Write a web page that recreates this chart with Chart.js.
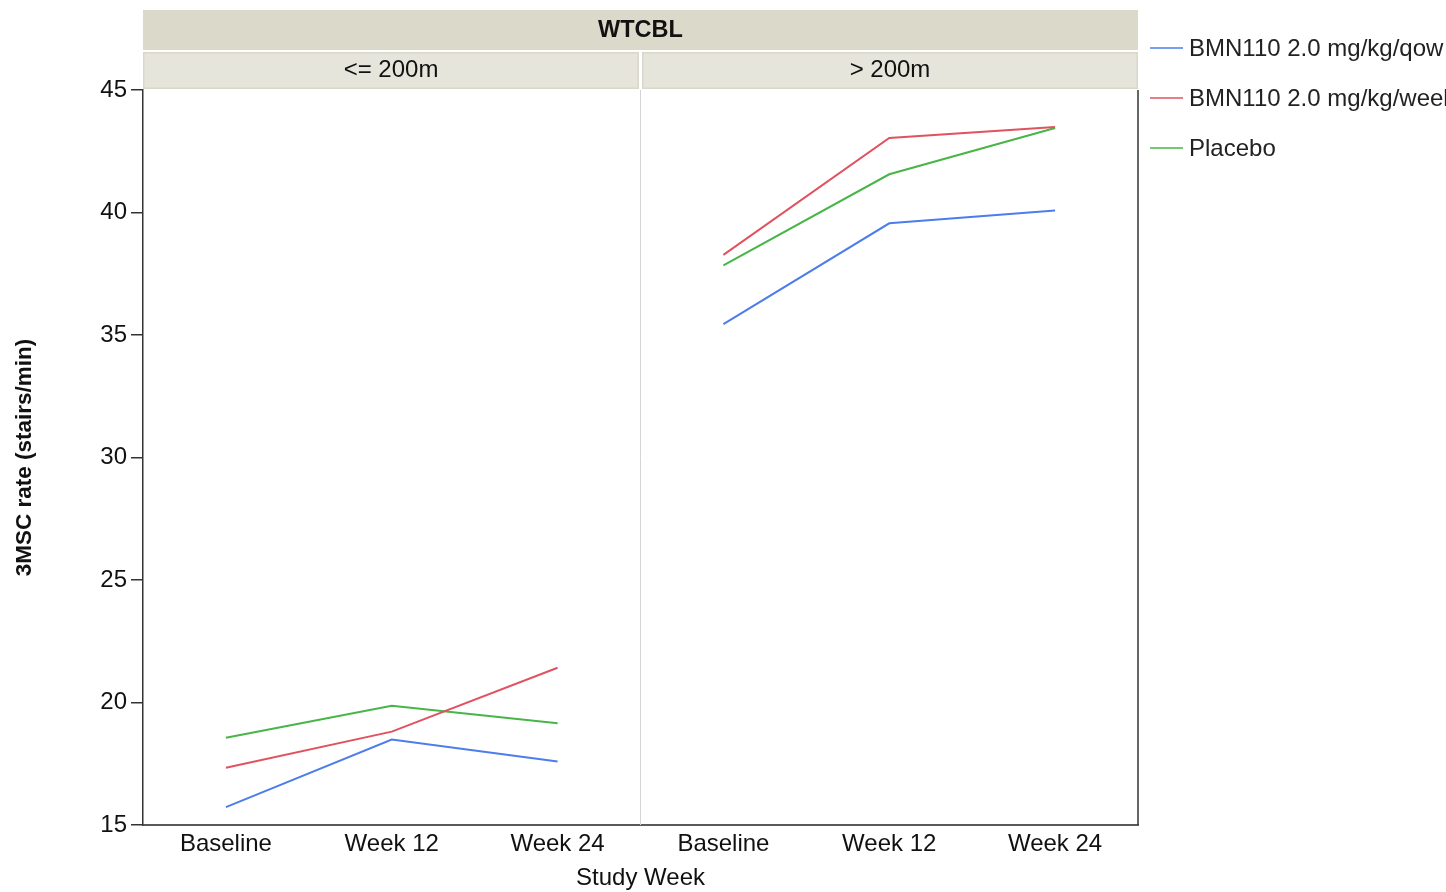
<!DOCTYPE html>
<html>
<head>
<meta charset="utf-8">
<script src="https://cdn.jsdelivr.net/npm/chart.js@4/dist/chart.umd.min.js"></script>
<style>
html,body{margin:0;padding:0;background:#fff;overflow:hidden;}
canvas{display:block;}
</style>
</head>
<body>
<canvas id="c" width="1446" height="892"></canvas>
<script>
// ---- data ----
const categories = ['Baseline', 'Week 12', 'Week 24'];
const panelLabels = ['<= 200m', '> 200m'];
const stripTitle = 'WTCBL';
const seriesNames = ['BMN110 2.0 mg/kg/qow', 'BMN110 2.0 mg/kg/week', 'Placebo'];
const seriesColors = ['#4d7ceb', '#e0525f', '#47b547'];
// values per series: panel "<= 200m" then panel "> 200m"
const qowLow = [15.73, 18.49, 17.59];
const qowHigh = [35.44, 39.56, 40.08];
const weekLow = [17.34, 18.81, 21.42];
const weekHigh = [38.27, 43.04, 43.49];
const placeboLow = [18.56, 19.87, 19.15];
const placeboHigh = [37.84, 41.56, 43.45];
const yTicks = [15, 20, 25, 30, 35, 40, 45];
const yTitle = '3MSC rate (stairs/min)';
const xTitle = 'Study Week';

const FONT = '"Liberation Sans", Arial, sans-serif';
const FS = 24;
const labels = categories.concat(categories);
const seriesData = [qowLow.concat(qowHigh), weekLow.concat(weekHigh), placeboLow.concat(placeboHigh)];

const datasets = seriesNames.map((n, i) => ({
  label: n,
  data: seriesData[i],
  borderColor: seriesColors[i],
  backgroundColor: seriesColors[i],
  borderWidth: 2,
  pointRadius: 0,
  fill: false,
  tension: 0,
  segment: {
    borderColor: ctx => ctx.p0DataIndex === categories.length - 1 ? 'rgba(0,0,0,0)' : undefined
  }
}));

const decor = {
  id: 'decor',
  afterDraw(chart) {
    const c = chart.ctx, a = chart.chartArea, x = chart.scales.x;
    const mid = (x.getPixelForValue(2) + x.getPixelForValue(3)) / 2;
    c.save();
    // panel divider
    c.strokeStyle = '#d4d4d4'; c.lineWidth = 1;
    c.beginPath(); c.moveTo(mid, a.top); c.lineTo(mid, a.bottom); c.stroke();
    // right border
    c.strokeStyle = '#333'; c.lineWidth = 1.5;
    c.beginPath(); c.moveTo(a.right, a.top); c.lineTo(a.right, a.bottom); c.stroke();
    // top strip
    c.fillStyle = '#dbd9ca';
    c.fillRect(a.left, 10, a.right - a.left, 40);
    c.fillStyle = '#111'; c.font = 'bold 23.5px ' + FONT;
    c.textAlign = 'center'; c.textBaseline = 'middle';
    c.fillText(stripTitle, (a.left + a.right) / 2, 31);
    // sub strips
    const panels = [[a.left, mid - 1.5], [mid + 1.5, a.right]];
    panels.forEach((p, i) => {
      c.fillStyle = '#e6e5dc';
      c.fillRect(p[0], 52, p[1] - p[0], 37);
      c.strokeStyle = '#d8d7ca'; c.lineWidth = 1.5;
      c.strokeRect(p[0] + 0.75, 52.75, p[1] - p[0] - 1.5, 35.5);
      c.fillStyle = '#111'; c.font = FS + 'px ' + FONT;
      c.fillText(panelLabels[i], (p[0] + p[1]) / 2, 70);
    });
    // legend
    c.textAlign = 'left';
    seriesNames.forEach((n, i) => {
      const y = 48 + i * 50;
      c.strokeStyle = seriesColors[i]; c.lineWidth = 1.5;
      c.beginPath(); c.moveTo(1150, y); c.lineTo(1183, y); c.stroke();
      c.fillStyle = '#222'; c.font = FS + 'px ' + FONT;
      c.fillText(n, 1189, y + 1);
    });
    c.restore();
  }
};

new Chart(document.getElementById('c'), {
  type: 'line',
  data: { labels, datasets },
  options: {
    responsive: false,
    animation: false,
    layout: { padding: { left: 0, top: 90, right: 308, bottom: 0 } },
    plugins: { legend: { display: false }, tooltip: { enabled: false } },
    scales: {
      x: {
        type: 'category',
        offset: true,
        afterFit(s) { s.height = 67; },
        grid: { display: true, drawOnChartArea: false, drawTicks: false },
        border: { display: true, color: '#5a5a5a', width: 2 },
        ticks: { color: '#111', font: { family: FONT, size: FS }, padding: 5, maxRotation: 0, autoSkip: false },
        title: { display: true, text: xTitle, color: '#111', font: { family: FONT, size: FS }, padding: { top: 0, bottom: -1 } }
      },
      y: {
        min: 15, max: 45,
        afterFit(s) { s.width = 143; },
        afterBuildTicks(s) { s.ticks = yTicks.map(v => ({ value: v })); },
        grid: { display: true, drawOnChartArea: false, drawTicks: true, tickLength: 12, color: '#333', lineWidth: 1.5 },
        border: { display: true, color: '#333', width: 1.5 },
        ticks: { color: '#111', font: { family: FONT, size: FS }, padding: 4 },
        title: { display: true, text: yTitle, color: '#111', font: { family: FONT, size: 22.5, weight: 'bold' }, padding: { top: 11, bottom: 0 } }
      }
    }
  },
  plugins: [decor]
});
</script>
</body>
</html>
